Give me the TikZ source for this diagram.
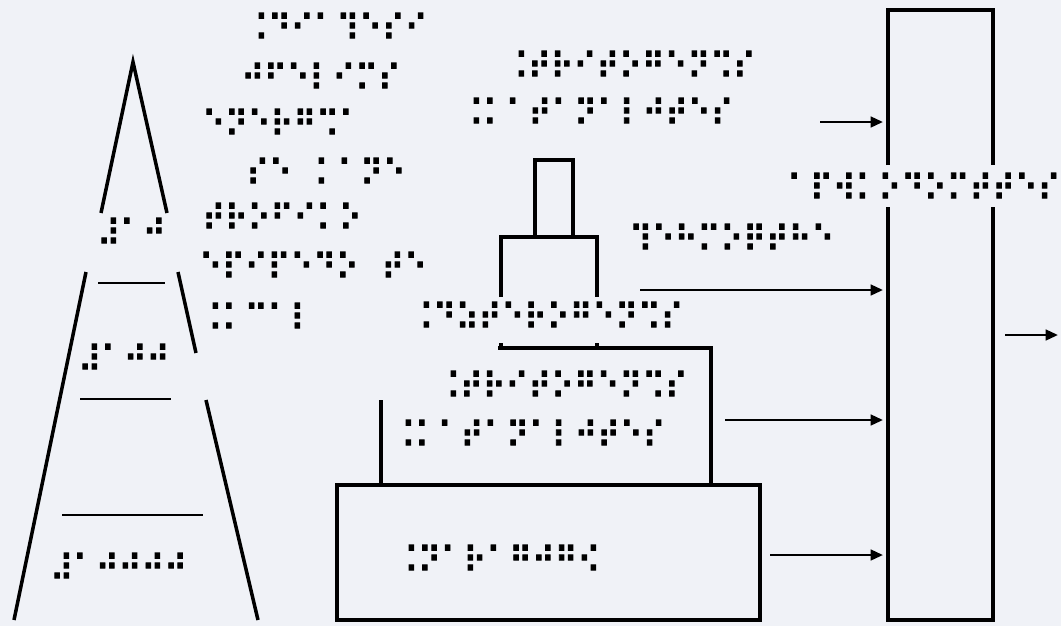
\documentclass[tikz,border=0pt]{standalone}
\usepackage{fontspec}
\usepackage{graphicx}
\newfontfamily\braillefont[FakeBold=3]{DejaVu Sans}
\newcommand\brl[1]{\scalebox{1}[1.15]{#1}}
\usetikzlibrary{arrows.meta}

\definecolor{paper}{rgb}{0.94,0.95,0.97}

\begin{document}
\begin{tikzpicture}[x=0.02cm,y=-0.02cm,
  wall/.style={line width=2pt},
  rule/.style={line width=1.1pt},
  feed/.style={line width=1.5pt,-{Triangle[length=7pt,width=6pt]}},
  dots/.style={font=\braillefont\fontsize{17.7}{18}\selectfont,inner sep=0pt,anchor=west}]
\useasboundingbox (0,0) rectangle (1061,626);
% Paper
\fill[paper] (0,0) rectangle (1061,626);
% Pyramid
\draw[wall] (101,213) -- (133,62) -- (167,213);
\draw[wall] (86,272) -- (14,620);
\draw[wall] (178,272) -- (196,353);
\draw[wall] (206,400) -- (258,620);
\draw[rule] (98,283) -- (165,283);
\draw[rule] (80,399) -- (171,399);
\draw[rule] (62,515) -- (203,515);
\node[dots] (top) at (97,232) {\brl{⠼⠁⠚}};
\node[dots] (mid) at (78,358) {\brl{⠼⠁⠚⠚}};
\node[dots] (low) at (50,567) {\brl{⠼⠁⠚⠚⠚⠚}};
% Word list beside the pyramid
\node[dots] (wa) at (245,27) {\brl{⠨⠙⠊⠁⠹⠑⠎⠊}};
\node[dots] (wb) at (241,77) {\brl{⠚⠋⠑⠇⠊⠍⠎}};
\node[dots] (wc) at (202,123) {\brl{⠑⠝⠑⠗⠛⠩⠁}};
\node[dots] (wd) at (246,172) {\brl{⠎⠑⠀⠅⠁⠝⠑}};
\node[dots] (we) at (202,217) {\brl{⠞⠗⠕⠋⠊⠅⠕}};
\node[dots] (wf) at (199,266) {\brl{⠑⠏⠊⠏⠑⠙⠕⠀⠞⠑}};
\node[dots] (wg) at (199,317) {\brl{⠨⠅⠉⠁⠇}};
% Stepped blocks
\draw[wall] (535,237) -- (535,160) -- (573,160) -- (573,237);
\draw[wall] (501,297) -- (501,237) -- (597,237) -- (597,297);
\draw[wall] (501,343) -- (501,348);
\draw[wall] (597,343) -- (597,348);
\draw[wall] (498,348) -- (711,348) -- (711,485);
\draw[wall] (381,400) -- (381,485);
\draw[wall] (337,485) rectangle (760,620);
\node[dots] (ba) at (505,65) {\brl{⠨⠞⠗⠊⠞⠕⠛⠑⠝⠩⠎}};
\node[dots] (bb) at (460,112) {\brl{⠨⠅⠁⠞⠁⠝⠁⠇⠚⠞⠑⠎}};
\node[dots] (bc) at (629,238) {\brl{⠹⠑⠓⠍⠕⠟⠞⠓⠑}};
\node[dots] (bd) at (410,316) {\brl{⠨⠙⠵⠞⠑⠗⠕⠛⠑⠝⠩⠎}};
\node[dots] (be) at (437,385) {\brl{⠨⠞⠗⠊⠞⠕⠛⠑⠝⠩⠎}};
\node[dots] (bf) at (392,434) {\brl{⠨⠅⠁⠞⠁⠝⠁⠇⠚⠞⠑⠎}};
\node[dots] (bg) at (395,559) {\brl{⠨⠝⠁⠗⠁⠛⠚⠛⠪}};
% Collector
\draw[wall] (888,165) -- (888,10) -- (993,10) -- (993,165);
\draw[wall] (888,207) -- (888,620) -- (993,620) -- (993,207);
\node[dots] (sum) at (787,187) {\brl{⠁⠏⠺⠅⠕⠙⠕⠍⠞⠞⠑⠎}};
% Arrows
\coordinate (a1) at (820,122);
\coordinate (a2) at (640,290);
\coordinate (a3) at (725,420);
\coordinate (a4) at (770,555);
\coordinate (b1) at (883,122);
\coordinate (b2) at (883,290);
\coordinate (b3) at (883,420);
\coordinate (b4) at (883,555);
\coordinate (out) at (1005,335);
\coordinate (end) at (1058,335);
\draw[feed] (a1) -- (b1);
\draw[feed] (a2) -- (b2);
\draw[feed] (a3) -- (b3);
\draw[feed] (a4) -- (b4);
\draw[feed] (out) -- (end);
\end{tikzpicture}
\end{document}
